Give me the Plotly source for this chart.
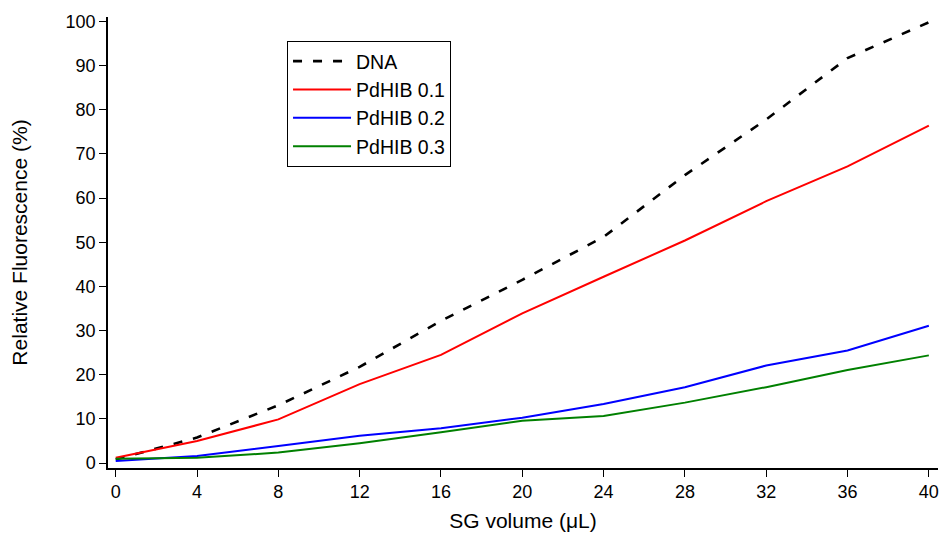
import plotly.graph_objects as go

sg_volume = [0, 4, 8, 12, 16, 20, 24, 28, 32, 36, 40]
dna = [0.8, 5.8, 13.1, 21.8, 32.2, 41.5, 51.2, 65.2, 77.8, 91.7, 99.8]
pdhib_01 = [1.2, 5.0, 9.9, 17.9, 24.5, 33.9, 42.2, 50.4, 59.3, 67.2, 76.4]
pdhib_02 = [0.5, 1.6, 3.9, 6.2, 7.9, 10.3, 13.4, 17.2, 22.1, 25.5, 31.1]
pdhib_03 = [1.0, 1.2, 2.4, 4.5, 7.0, 9.6, 10.7, 13.7, 17.2, 21.1, 24.4]

x_ticks = list(range(0, 41, 4))
y_ticks = list(range(0, 101, 10))

fig = go.Figure()
fig.add_trace(go.Scatter(x=sg_volume, y=dna, mode="lines", name="DNA",
                         line=dict(color="black", width=2.6, dash="9px,11px")))
fig.add_trace(go.Scatter(x=sg_volume, y=pdhib_01, mode="lines", name="PdHIB 0.1",
                         line=dict(color="#ff0000", width=2)))
fig.add_trace(go.Scatter(x=sg_volume, y=pdhib_02, mode="lines", name="PdHIB 0.2",
                         line=dict(color="#0000ff", width=2)))
fig.add_trace(go.Scatter(x=sg_volume, y=pdhib_03, mode="lines", name="PdHIB 0.3",
                         line=dict(color="#008000", width=2)))

font_family = "Liberation Sans, Arial, sans-serif"
fig.update_layout(
    width=941, height=536,
    margin=dict(l=108, r=3, t=17, b=68),
    paper_bgcolor="white", plot_bgcolor="white",
    font=dict(family=font_family, color="black", size=18),
    showlegend=True,
    legend=dict(x=0.2157, y=0.947, xanchor="left", yanchor="top",
                bordercolor="black", borderwidth=1, bgcolor="white",
                font=dict(size=19.5, family=font_family), tracegroupgap=0,
                itemwidth=58),
    xaxis=dict(range=[-0.38, 40.45], tickvals=x_ticks, showgrid=False, zeroline=False,
               showline=True, linecolor="black", linewidth=1.5,
               ticks="outside", ticklen=7, tickwidth=1.3, tickcolor="black",
               tickfont=dict(size=18),
               title=dict(text="SG volume (μL)", font=dict(size=21), standoff=12)),
    yaxis=dict(range=[-1.1, 101], tickvals=y_ticks, showgrid=False, zeroline=False,
               showline=True, linecolor="black", linewidth=1.5,
               ticks="outside", ticklen=7, tickwidth=1.3, tickcolor="black",
               tickfont=dict(size=18),
               title=dict(text="Relative Fluorescence (%)", font=dict(size=21), standoff=32)),
)

fig.write_html("out.html")
